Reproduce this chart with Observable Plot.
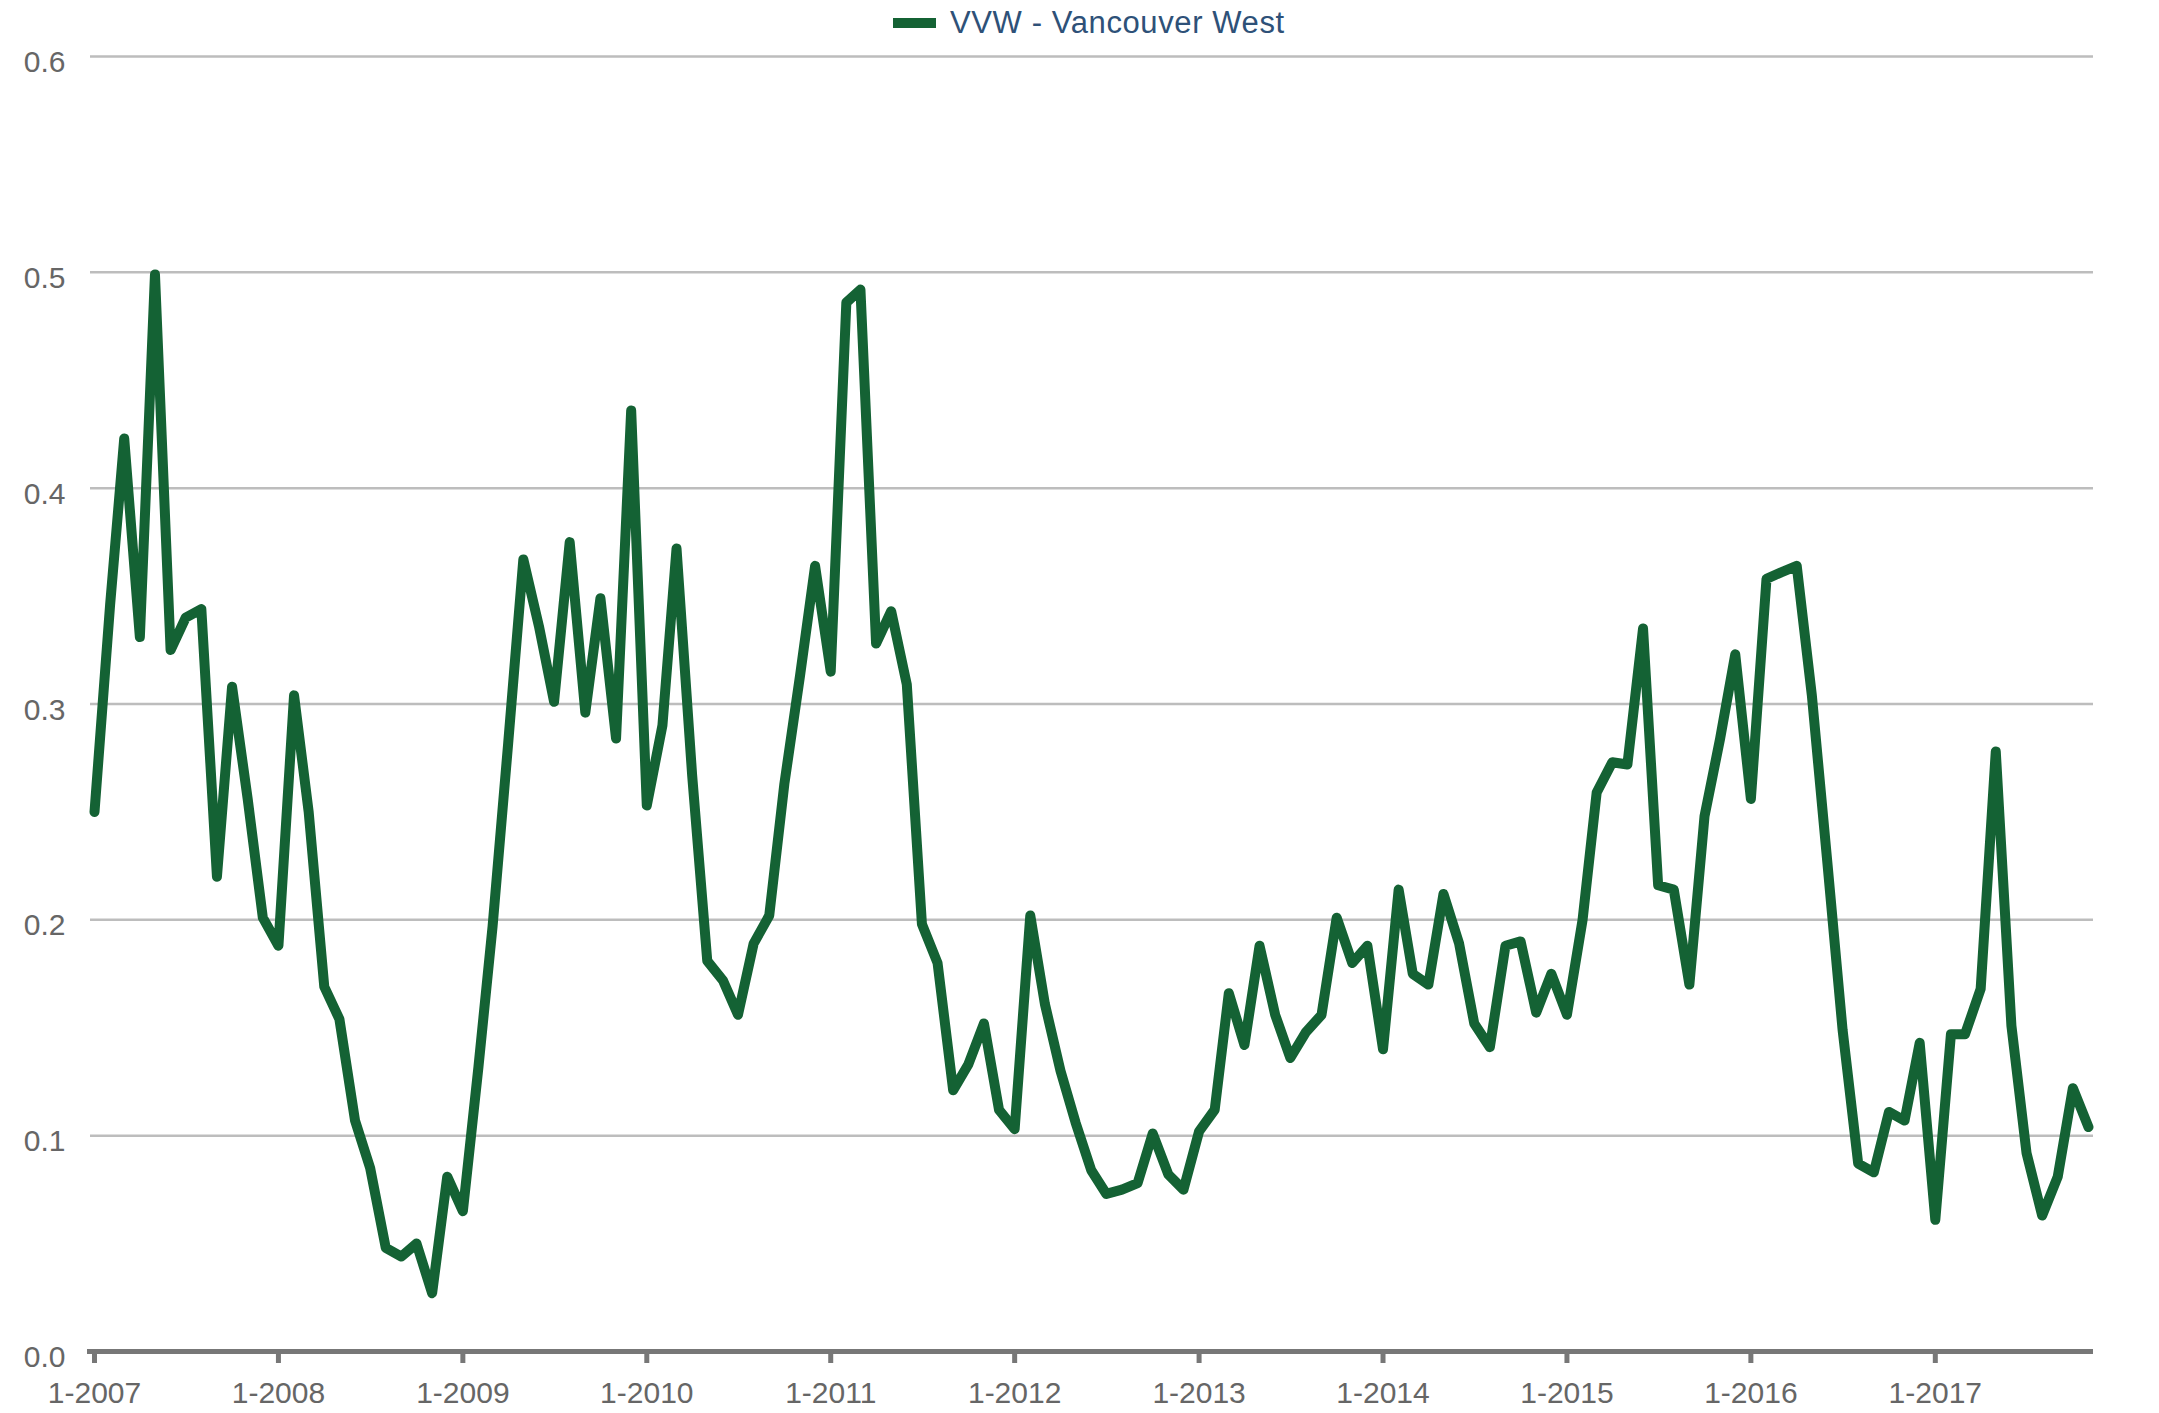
<!DOCTYPE html>
<html><head><meta charset="utf-8">
<script src="https://cdn.jsdelivr.net/npm/d3@7"></script>
<script src="https://cdn.jsdelivr.net/npm/@observablehq/plot@0.6"></script>
<style>
html,body{margin:0;padding:0;background:#fff;overflow:hidden}
#wrap{position:relative;width:2159px;height:1413px}
#legend{position:absolute;left:893px;top:6px;height:34px;display:flex;align-items:center;font-family:"Liberation Sans",Arial,Helvetica,sans-serif;font-size:31px;letter-spacing:0.6px;line-height:34px;color:#2e5178;white-space:nowrap}
#legend .sw{display:inline-block;width:43px;height:10px;background:#146234;margin-right:14px}
</style></head><body>
<div id="wrap"><div id="chart"></div><div id="legend"><span class="sw"></span><span>VVW - Vancouver West</span></div></div>
<script>
// Series: VVW - Vancouver West, monthly values (Jan..Dec) per year
const seriesName = "VVW - Vancouver West";
const years = [2007, 2008, 2009, 2010, 2011, 2012, 2013, 2014, 2015, 2016, 2017];
const v2007 = [0.250, 0.346, 0.423, 0.331, 0.499, 0.325, 0.340, 0.344, 0.220, 0.308, 0.256, 0.201];
const v2008 = [0.188, 0.304, 0.250, 0.169, 0.154, 0.107, 0.085, 0.048, 0.044, 0.050, 0.027, 0.081];
const v2009 = [0.065, 0.132, 0.197, 0.282, 0.367, 0.336, 0.301, 0.375, 0.296, 0.349, 0.284, 0.436];
const v2010 = [0.253, 0.290, 0.372, 0.267, 0.181, 0.172, 0.156, 0.189, 0.202, 0.263, 0.313, 0.364];
const v2011 = [0.315, 0.486, 0.492, 0.328, 0.343, 0.309, 0.198, 0.180, 0.121, 0.133, 0.152, 0.112];
const v2012 = [0.103, 0.202, 0.161, 0.130, 0.106, 0.084, 0.073, 0.075, 0.078, 0.101, 0.082, 0.075];
const v2013 = [0.102, 0.112, 0.166, 0.142, 0.188, 0.156, 0.136, 0.148, 0.156, 0.201, 0.180, 0.188];
const v2014 = [0.140, 0.214, 0.175, 0.170, 0.212, 0.189, 0.152, 0.141, 0.188, 0.190, 0.157, 0.175];
const v2015 = [0.156, 0.200, 0.259, 0.273, 0.272, 0.335, 0.216, 0.214, 0.170, 0.248, 0.284, 0.323];
const v2016 = [0.256, 0.358, 0.361, 0.364, 0.304, 0.226, 0.149, 0.087, 0.083, 0.111, 0.107, 0.143];
const v2017 = [0.061, 0.147, 0.147, 0.168, 0.278, 0.151, 0.092, 0.063, 0.081, 0.122, 0.104];
const yearValues = [v2007, v2008, v2009, v2010, v2011, v2012, v2013, v2014, v2015, v2016, v2017];
const yTicks = [0, 0.1, 0.2, 0.3, 0.4, 0.5, 0.6];
const xTickYears = [2007, 2008, 2009, 2010, 2011, 2012, 2013, 2014, 2015, 2016, 2017];

const data = [];
years.forEach((yr, i) => yearValues[i].forEach((v, m) => data.push({date: new Date(Date.UTC(yr, m, 1)), value: v})));
const xTicks = xTickYears.map(y => new Date(Date.UTC(y, 0, 1)));

const chart = Plot.plot({
  width: 2159, height: 1413,
  marginLeft: 94, marginRight: 71, marginTop: 56, marginBottom: 62,
  style: {fontFamily: "'Liberation Sans', Arial, Helvetica, sans-serif", fontSize: "30px", color: "#666", background: "#fff"},
  x: {type: "utc", domain: [data[0].date, data[data.length - 1].date]},
  y: {domain: [0, 0.6]},
  marks: [
    Plot.ruleY(yTicks.filter(d => d > 0), {stroke: "#bdbdbd", strokeWidth: 2.5, insetLeft: -4, insetRight: -5}),
    Plot.axisY({ticks: yTicks, tickFormat: d3.format(".1f"), tickSize: 0, tickPadding: 29, dy: 6, fill: "#666", fontSize: 30, label: null}),
    Plot.line(data, {x: "date", y: "value", stroke: "#146234", strokeWidth: 10, strokeLinejoin: "round", strokeLinecap: "round"}),
    Plot.ruleY([0], {stroke: "#777", strokeWidth: 5, insetLeft: -7, insetRight: -5}),
    Plot.axisX({ticks: xTicks, tickFormat: d => `1-${d.getUTCFullYear()}`, tickSize: 12, tickPadding: 18, stroke: "#777", strokeWidth: 5, fill: "#666", fontSize: 30, label: null})
  ]
});
document.getElementById("chart").appendChild(chart);
</script>
</body></html>
